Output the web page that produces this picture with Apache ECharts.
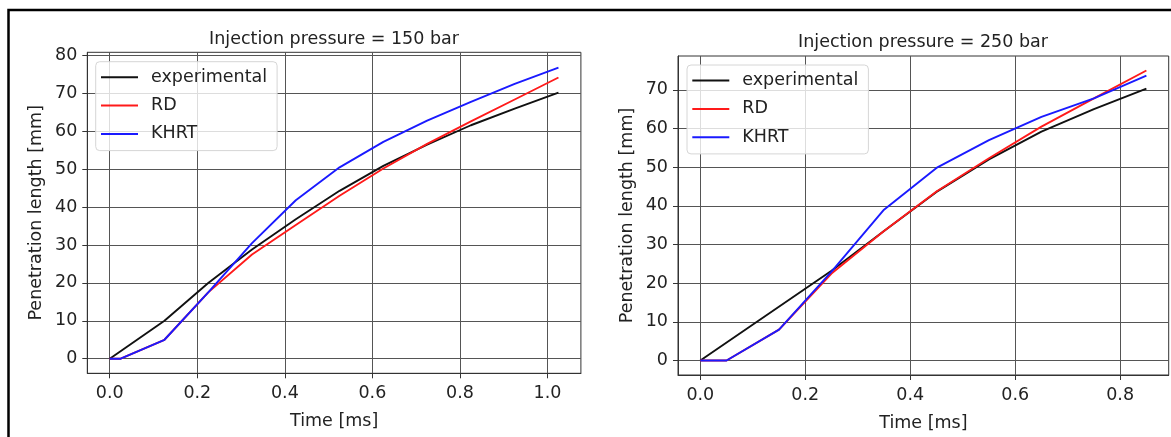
<!DOCTYPE html>
<html>
<head>
<meta charset="utf-8">
<script src="https://cdn.jsdelivr.net/npm/echarts@6/dist/echarts.min.js"></script>
<style>
html, body { margin: 0; padding: 0; background: #fff; }
#chart { width: 1171px; height: 437px; }
</style>
</head>
<body>
<div id="chart"></div>
<script>
// injection pressure = 150 bar
const tExp150 = [0, 0.125, 0.225, 0.325, 0.425, 0.525, 0.625, 0.725, 0.825, 0.925, 1.025];
const exp150 = [0, 10, 20, 28.8, 36.8, 44.3, 50.9, 56.5, 61.6, 66, 70.2];
const tSim150 = [0, 0.025, 0.125, 0.225, 0.325, 0.425, 0.525, 0.625, 0.725, 0.825, 0.925, 1.025];
const rd150 = [0, 0, 5, 17.5, 27.5, 35.3, 43, 50.2, 56.7, 62.6, 68.4, 74.2];
const khrt150 = [0, 0, 5, 17.5, 30.5, 41.8, 50.5, 57.2, 62.8, 67.8, 72.5, 76.8];

// injection pressure = 250 bar
const tExp250 = [0, 0.25, 0.35, 0.45, 0.55, 0.65, 0.75, 0.85];
const exp250 = [0, 23.2, 33.5, 43.6, 52, 59.2, 65, 70.3];
const tSim250 = [0, 0.05, 0.15, 0.25, 0.35, 0.45, 0.55, 0.65, 0.75, 0.85];
const rd250 = [0, 0, 8, 22.5, 33.5, 43.7, 52.3, 60.5, 67.8, 75];
const khrt250 = [0, 0, 8, 23, 39, 49.8, 57, 63, 67.8, 73.7];

// tick labels
const xTicks150 = [0, 0.2, 0.4, 0.6, 0.8, 1.0];
const xTicks250 = [0, 0.2, 0.4, 0.6, 0.8];
const yTicks150 = [0, 10, 20, 30, 40, 50, 60, 70, 80];
const yTicks250 = [0, 10, 20, 30, 40, 50, 60, 70];

const names = ['experimental', 'RD', 'KHRT'];
const colors = ['#111111', '#ff1a1a', '#1a1aff'];

const FONT = 'DejaVu Sans';
const FS = 17.5;
const TXT = '#222';

const pairs = (ts, vs) => ts.map((t, i) => [t, vs[i]]);

function xAxis(gridIndex, min, max, ticks) {
  return {
    type: 'value', gridIndex, min, max,
    name: 'Time [ms]', nameLocation: 'middle', nameGap: 39,
    nameTextStyle: { fontFamily: FONT, fontSize: FS, color: TXT },
    axisLine: { show: true, onZero: false, lineStyle: { color: '#333', width: 1 } },
    axisTick: { show: true, length: 5, customValues: ticks, lineStyle: { color: '#333' } },
    axisLabel: { customValues: ticks, formatter: v => v.toFixed(1), margin: 11,
      fontFamily: FONT, fontSize: FS, color: TXT },
    splitLine: { show: true, lineStyle: { color: '#555', width: 1 } }
  };
}

function yAxis(gridIndex, min, max, ticks) {
  return {
    type: 'value', gridIndex, min, max,
    name: 'Penetration length [mm]', nameLocation: 'middle', nameGap: 42, nameRotate: 90,
    nameTextStyle: { fontFamily: FONT, fontSize: FS, color: TXT },
    axisLine: { show: true, onZero: false, lineStyle: { color: '#333', width: 1 } },
    axisTick: { show: true, length: 5, customValues: ticks, lineStyle: { color: '#333' } },
    axisLabel: { customValues: ticks, margin: 10, fontFamily: FONT, fontSize: FS, color: TXT },
    splitLine: { show: true, lineStyle: { color: '#555', width: 1 } }
  };
}

function legend(left, top) {
  return {
    left, top, orient: 'vertical', data: names,
    icon: 'rect', itemWidth: 37, itemHeight: 2, itemGap: 8.3,
    padding: [5.6, 10, 6.7, 5.3],
    backgroundColor: 'rgba(255,255,255,0.8)',
    borderColor: '#d6d6d6', borderWidth: 1, borderRadius: 4,
    textStyle: { fontFamily: FONT, fontSize: FS, color: TXT, lineHeight: 20, padding: [0, 0, 0, 8] }
  };
}

function lines(idx, data) {
  return data.map((d, i) => ({
    type: 'line', name: names[i], xAxisIndex: idx, yAxisIndex: idx,
    data: d, symbol: 'none', z: 2 + i,
    lineStyle: { color: colors[i], width: 1.9 },
    itemStyle: { color: colors[i] }
  }));
}

const chart = echarts.init(document.getElementById('chart'));
chart.setOption({
  animation: false,
  backgroundColor: '#fff',
  title: [
    { text: 'Injection pressure = 150 bar', left: 334, top: 29, textAlign: 'center', padding: 0,
      textStyle: { fontFamily: FONT, fontSize: FS, fontWeight: 'normal', color: TXT, lineHeight: 20 } },
    { text: 'Injection pressure = 250 bar', left: 923, top: 32.5, textAlign: 'center', padding: 0,
      textStyle: { fontFamily: FONT, fontSize: FS, fontWeight: 'normal', color: TXT, lineHeight: 20 } }
  ],
  legend: [legend(95.7, 61.7), legend(687, 65)],
  grid: [
    { left: 87.3, top: 52.3, width: 493.6, height: 321, show: true, borderColor: '#333', borderWidth: 1 },
    { left: 678, top: 56, width: 490.7, height: 319, show: true, borderColor: '#333', borderWidth: 1 }
  ],
  xAxis: [xAxis(0, -0.05125, 1.07625, xTicks150), xAxis(1, -0.0425, 0.8925, xTicks250)],
  yAxis: [yAxis(0, -3.85, 80.85, yTicks150), yAxis(1, -3.75, 78.75, yTicks250)],
  graphic: [{
    type: 'rect', silent: true, z: 100,
    shape: { x: 8.5, y: 10, width: 1180, height: 460 },
    style: { fill: 'none', stroke: '#000', lineWidth: 2.5 }
  }],
  series: [
    ...lines(0, [pairs(tExp150, exp150), pairs(tSim150, rd150), pairs(tSim150, khrt150)]),
    ...lines(1, [pairs(tExp250, exp250), pairs(tSim250, rd250), pairs(tSim250, khrt250)])
  ]
});
</script>
</body>
</html>
